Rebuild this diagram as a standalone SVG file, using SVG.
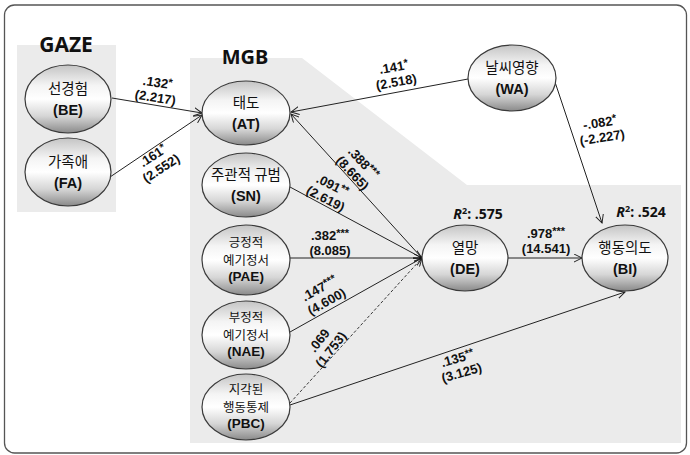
<svg xmlns="http://www.w3.org/2000/svg" width="690" height="455" viewBox="0 0 690 455">
<defs>
<linearGradient id="ng" x1="0" y1="0" x2="0" y2="1">
<stop offset="0" stop-color="#c4c4c4"/>
<stop offset="0.3" stop-color="#f4f4f4"/>
<stop offset="0.5" stop-color="#ffffff"/>
<stop offset="0.75" stop-color="#d6d6d6"/>
<stop offset="1" stop-color="#8a8a8a"/>
</linearGradient>
<marker id="ar" viewBox="0 0 10 10" refX="9" refY="5" markerWidth="9" markerHeight="9" markerUnits="userSpaceOnUse" orient="auto">
<path d="M0,0.5 L9,5 L0,9.5" fill="none" stroke="#222" stroke-width="1.1"/>
</marker>
</defs>
<style>
.bg{fill:#ebebeb}
.nd{fill:url(#ng);stroke:#3a3a3a;stroke-width:1.2}
.nt{font-family:"Noto Sans CJK KR","Noto Sans",sans-serif;font-size:14.5px;fill:#111;text-anchor:middle}
.n3{font-size:12.5px}
.ab{font-family:"Liberation Sans",Arial,sans-serif;font-weight:700;font-size:14.5px;fill:#111;text-anchor:middle}
.a3{font-size:13.5px}
.ln{stroke:#222;stroke-width:1;fill:none;marker-end:url(#ar)}
.dl{stroke:#222;stroke-width:0.9;fill:none;stroke-dasharray:3,2;marker-end:url(#ar)}
.lb{font-family:"Liberation Sans",Arial,sans-serif;font-size:13px;font-weight:700;fill:#111;text-anchor:middle}
.st{font-size:11px;font-weight:700}
.ti{font-family:"Noto Sans","Open Sans",sans-serif;font-weight:700;fill:#111;text-anchor:middle}
</style>
<rect x="0" y="0" width="690" height="455" fill="#ffffff"/>
<rect x="4.5" y="5" width="682" height="448" rx="10" fill="#ffffff" stroke="#555" stroke-width="1.3"/>
<rect class="bg" x="17" y="45" width="99" height="167"/>
<polygon class="bg" points="190,58 302,58 467,185 681,185 681,443 190,443"/>
<text class="ti" x="66" y="52" font-size="21">GAZE</text>
<text class="ti" x="245" y="64" font-size="20">MGB</text>
<text class="ti" x="478" y="219" font-size="14"><tspan font-style="italic">R</tspan><tspan font-size="9" dy="-5">2</tspan><tspan dy="5">: .575</tspan></text>
<text class="ti" x="641" y="217" font-size="14"><tspan font-style="italic">R</tspan><tspan font-size="9" dy="-5">2</tspan><tspan dy="5">: .524</tspan></text>

<g id="connectors">
<line class="ln" x1="112" y1="98" x2="202" y2="113"/>
<line class="ln" x1="110" y1="177" x2="202" y2="115"/>
<line class="ln" x1="468" y1="79" x2="291" y2="112"/>
<line class="ln" x1="555" y1="82" x2="602" y2="223"/>
<line class="ln" x1="422" y1="258" x2="291" y2="114"/>
<line class="ln" x1="290" y1="187" x2="422" y2="258"/>
<line class="ln" x1="290" y1="258" x2="422" y2="258"/>
<line class="ln" x1="290" y1="332" x2="422" y2="258"/>
<line class="dl" x1="290" y1="403" x2="422" y2="258"/>
<line class="ln" x1="290" y1="405" x2="625" y2="292"/>
<line class="ln" x1="508" y1="258" x2="582" y2="258"/>
<circle cx="421" cy="258" r="1.8" fill="#111"/>
<g class="lb">
<g transform="translate(156.5,90) rotate(9)"><text y="-3">.132<tspan class="st" dy="-3">*</tspan></text><text y="12">(2.217)</text></g>
<g transform="translate(157,162) rotate(-33)"><text y="-3">.161<tspan class="st" dy="-3">*</tspan></text><text y="12">(2.552)</text></g>
<g transform="translate(395,74.5) rotate(-10)"><text y="-3">.141<tspan class="st" dy="-3">*</tspan></text><text y="12">(2.518)</text></g>
<g transform="translate(601,130) rotate(-9)"><text y="-3">-.082<tspan class="st" dy="-3">*</tspan></text><text y="12">(-2.227)</text></g>
<g transform="translate(358,168) rotate(47)"><text y="-3">.388<tspan class="st" dy="-3">***</tspan></text><text y="12">(8.665)</text></g>
<g transform="translate(329,192) rotate(27)"><text y="-3">.091<tspan class="st" dy="-3">**</tspan></text><text y="12">(2.619)</text></g>
<g transform="translate(330,243)"><text y="-3">.382<tspan class="st" dy="-3">***</tspan></text><text y="12">(8.085)</text></g>
<g transform="translate(323,295) rotate(-29)"><text y="-3">.147<tspan class="st" dy="-3">***</tspan></text><text y="12">(4.600)</text></g>
<g transform="translate(325,345) rotate(-52)"><text y="-3">.069</text><text y="12">(1.753)</text></g>
<g transform="translate(459.5,365.5) rotate(-16)"><text y="-3">.135<tspan class="st" dy="-3">**</tspan></text><text y="12">(3.125)</text></g>
<g transform="translate(546,241)"><text y="-3">.978<tspan class="st" dy="-3">***</tspan></text><text y="12">(14.541)</text></g>
</g>
</g>

<g id="BE"><ellipse class="nd" cx="68" cy="99" rx="43" ry="34"/><text class="nt" x="68" y="94">선경험</text><text class="ab" x="68" y="115">(BE)</text></g>
<g id="FA"><ellipse class="nd" cx="68" cy="172" rx="43" ry="34"/><text class="nt" x="68" y="167">가족애</text><text class="ab" x="68" y="188">(FA)</text></g>
<g id="AT"><ellipse class="nd" cx="246" cy="113" rx="44" ry="32"/><text class="nt" x="246" y="108">태도</text><text class="ab" x="246" y="129">(AT)</text></g>
<g id="SN"><ellipse class="nd" cx="246" cy="185" rx="44" ry="32"/><text class="nt" x="246" y="180">주관적 규범</text><text class="ab" x="246" y="201">(SN)</text></g>
<g id="PAE"><ellipse class="nd" cx="246" cy="260" rx="44" ry="35"/><text class="nt n3" x="246" y="247">긍정적</text><text class="nt n3" x="246" y="265.3">예기정서</text><text class="ab a3" x="246" y="281">(PAE)</text></g>
<g id="NAE"><ellipse class="nd" cx="246" cy="335" rx="44" ry="34"/><text class="nt n3" x="246" y="322">부정적</text><text class="nt n3" x="246" y="340.3">예기정서</text><text class="ab a3" x="246" y="356">(NAE)</text></g>
<g id="PBC"><ellipse class="nd" cx="246" cy="407" rx="44" ry="33"/><text class="nt n3" x="246" y="394">지각된</text><text class="nt n3" x="246" y="412.3">행동통제</text><text class="ab a3" x="246" y="428">(PBC)</text></g>
<g id="WA"><ellipse class="nd" cx="512" cy="78" rx="44" ry="33"/><text class="nt" x="512" y="73">날씨영향</text><text class="ab" x="512" y="94">(WA)</text></g>
<g id="DE"><ellipse class="nd" cx="465" cy="258" rx="43" ry="33"/><text class="nt" x="465" y="253">열망</text><text class="ab" x="465" y="274">(DE)</text></g>
<g id="BI"><ellipse class="nd" cx="625" cy="258" rx="43" ry="33"/><text class="nt" x="625" y="253">행동의도</text><text class="ab" x="625" y="274">(BI)</text></g>
</svg>
